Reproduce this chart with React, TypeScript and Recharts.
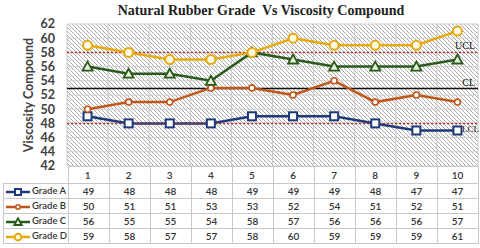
import React from "react";
import {
  LineChart,
  Line,
  XAxis,
  YAxis,
  CartesianGrid,
  ReferenceLine,
} from "recharts";

// samples along the x axis
const samples = [1, 2, 3, 4, 5, 6, 7, 8, 9, 10];
const gradeA = [49, 48, 48, 48, 49, 49, 49, 48, 47, 47];
const gradeB = [50, 51, 51, 53, 53, 52, 54, 51, 52, 51];
const gradeC = [56, 55, 55, 54, 58, 57, 56, 56, 56, 57];
const gradeD = [59, 58, 57, 57, 58, 60, 59, 59, 59, 61];
const yTicks = [42, 44, 46, 48, 50, 52, 54, 56, 58, 60, 62];
const colBounds = [0.5, 1.5, 2.5, 3.5, 4.5, 5.5, 6.5, 7.5, 8.5, 9.5, 10.5];

const UCL = 58;
const CL = 52.9;
const LCL = 48;

const data = samples.map((s, i) => ({
  x: s,
  a: gradeA[i],
  b: gradeB[i],
  c: gradeC[i],
  d: gradeD[i],
}));

const series = [
  { key: "a", name: "Grade A", color: "#1f3a7a", values: gradeA, marker: "square" },
  { key: "b", name: "Grade B", color: "#c0561a", values: gradeB, marker: "smallCircle" },
  { key: "c", name: "Grade C", color: "#2a5a1c", values: gradeC, marker: "triangle" },
  { key: "d", name: "Grade D", color: "#e8a90c", values: gradeD, marker: "circle" },
];

const Marker = ({ type, cx, cy, color, small }: any) => {
  const k = small ? 0.75 : 1;
  if (type === "square") {
    return <rect x={cx - 4 * k} y={cy - 4 * k} width={8 * k} height={8 * k} fill="#fff" stroke={color} strokeWidth={2} />;
  }
  if (type === "triangle") {
    return (
      <path
        d={`M${cx},${cy - 5 * k} L${cx + 5 * k},${cy + 4 * k} L${cx - 5 * k},${cy + 4 * k} Z`}
        fill="#e6f0dc"
        stroke={color}
        strokeWidth={1.8}
      />
    );
  }
  if (type === "smallCircle") {
    return <circle cx={cx} cy={cy} r={3 * k} fill="#fff" stroke={color} strokeWidth={1.6} />;
  }
  return <circle cx={cx} cy={cy} r={4.5 * k} fill="#fffbe8" stroke={color} strokeWidth={2} />;
};

const LegendKey = ({ color, marker }: any) => (
  <svg width={26} height={10} style={{ verticalAlign: "middle" }}>
    <line x1={1} y1={5} x2={25} y2={5} stroke={color} strokeWidth={2.5} />
    <Marker type={marker} cx={13} cy={5} color={color} small />
  </svg>
);

const cellFont = "Lato, 'Open Sans', sans-serif";
const serif = "'Liberation Serif', serif";

export default function App() {
  return (
    <div style={{ position: "absolute", left: 0, top: 0, width: 480, height: 248, background: "#fff" }}>
      <div
        style={{
          position: "absolute",
          left: 0,
          width: 522,
          top: 3,
          textAlign: "center",
          fontFamily: serif,
          fontWeight: 700,
          fontSize: 14,
          color: "#222",
        }}
      >
        Natural Rubber Grade&nbsp; Vs Viscosity Compound
      </div>
      <LineChart width={480} height={248} data={data} margin={{ top: 24, right: 2, bottom: 0, left: 0 }}>
        <defs>
          <pattern id="hatch" patternUnits="userSpaceOnUse" width={4} height={4}>
            <rect width={4} height={4} fill="#fff" />
            <path d="M-1,-1 L1,1 M0,0 L4,4 M3,3 L5,5" stroke="#a8a8a8" strokeWidth={0.9} />
          </pattern>
        </defs>
        <CartesianGrid fill="url(#hatch)" vertical={false} stroke="#cfcfcf" />
        <XAxis
          dataKey="x"
          type="number"
          domain={[0.5, 10.5]}
          ticks={samples}
          axisLine={false}
          tickLine={false}
          tickMargin={0}
          height={82}
          tick={{ fontSize: 10, fill: "#333", fontFamily: cellFont, fontWeight: 600 }}
        />
        <YAxis
          domain={[42, 62]}
          ticks={yTicks}
          width={67}
          axisLine={false}
          tickLine={false}
          tickMargin={6}
          interval={0}
          tick={{ fontSize: 12.5, fill: "#404040", fontFamily: cellFont, fontWeight: 700 }}
          label={{
            value: "Viscosity Compound",
            angle: -90,
            position: "insideLeft",
            offset: 29,
            style: { fontSize: 12.5, fill: "#404040", fontFamily: cellFont, fontWeight: 700, textAnchor: "middle" },
          }}
        />
        {colBounds.map((b) => (
          <ReferenceLine key={b} x={b} stroke="#c8c8c8" strokeWidth={1} />
        ))}
        <ReferenceLine
          y={UCL}
          stroke="#b0302a"
          strokeDasharray="2 2"
          strokeWidth={1.5}
          label={{ value: "UCL", position: "insideBottomRight", offset: 3, fontSize: 10, fill: "#111", fontFamily: serif }}
        />
        <ReferenceLine
          y={CL}
          stroke="#111"
          strokeWidth={1.5}
          label={{ value: "CL", position: "insideBottomRight", offset: 3, fontSize: 10, fill: "#111", fontFamily: serif }}
        />
        {series.map((s) => (
          <Line
            key={s.key}
            dataKey={s.key}
            name={s.name}
            stroke={s.color}
            strokeWidth={2.5}
            isAnimationActive={false}
            dot={(p: any) => <Marker key={`${s.key}-${p.index}`} type={s.marker} cx={p.cx} cy={p.cy} color={s.color} />}
          />
        ))}
        {/* LCL drawn after the lines so its label sits on top of the last marker */}
        <ReferenceLine
          y={LCL}
          stroke="#b0302a"
          strokeDasharray="2 2"
          strokeWidth={1.5}
          label={{ value: "LCL", position: "insideTopRight", offset: 2, dx: 3, fontSize: 9, fill: "#111", fontFamily: serif }}
        />
      </LineChart>

      {/* data table under the plot */}
      <table
        style={{
          position: "absolute",
          left: 3,
          top: 166,
          borderCollapse: "collapse",
          tableLayout: "fixed",
          fontFamily: cellFont,
          fontSize: 10,
          fontWeight: 600,
          color: "#333",
        }}
      >
        <tbody>
          <tr style={{ height: 17 }}>
            <td style={{ width: 64, padding: 0 }} />
            {samples.map((s) => (
              <td key={s} style={{ width: 40, padding: 0, border: "1px solid #c8c8c8" }} />
            ))}
          </tr>
          {series.map((s) => (
            <tr key={s.key} style={{ height: 15 }}>
              <td style={{ padding: "0 0 0 1px", border: "1px solid #c8c8c8", whiteSpace: "nowrap", fontSize: 9.5 }}>
                <LegendKey color={s.color} marker={s.marker} />
                <span style={{ marginLeft: 1 }}>{s.name}</span>
              </td>
              {s.values.map((v, i) => (
                <td key={i} style={{ padding: 0, border: "1px solid #c8c8c8", textAlign: "center" }}>
                  {v}
                </td>
              ))}
            </tr>
          ))}
        </tbody>
      </table>
    </div>
  );
}
